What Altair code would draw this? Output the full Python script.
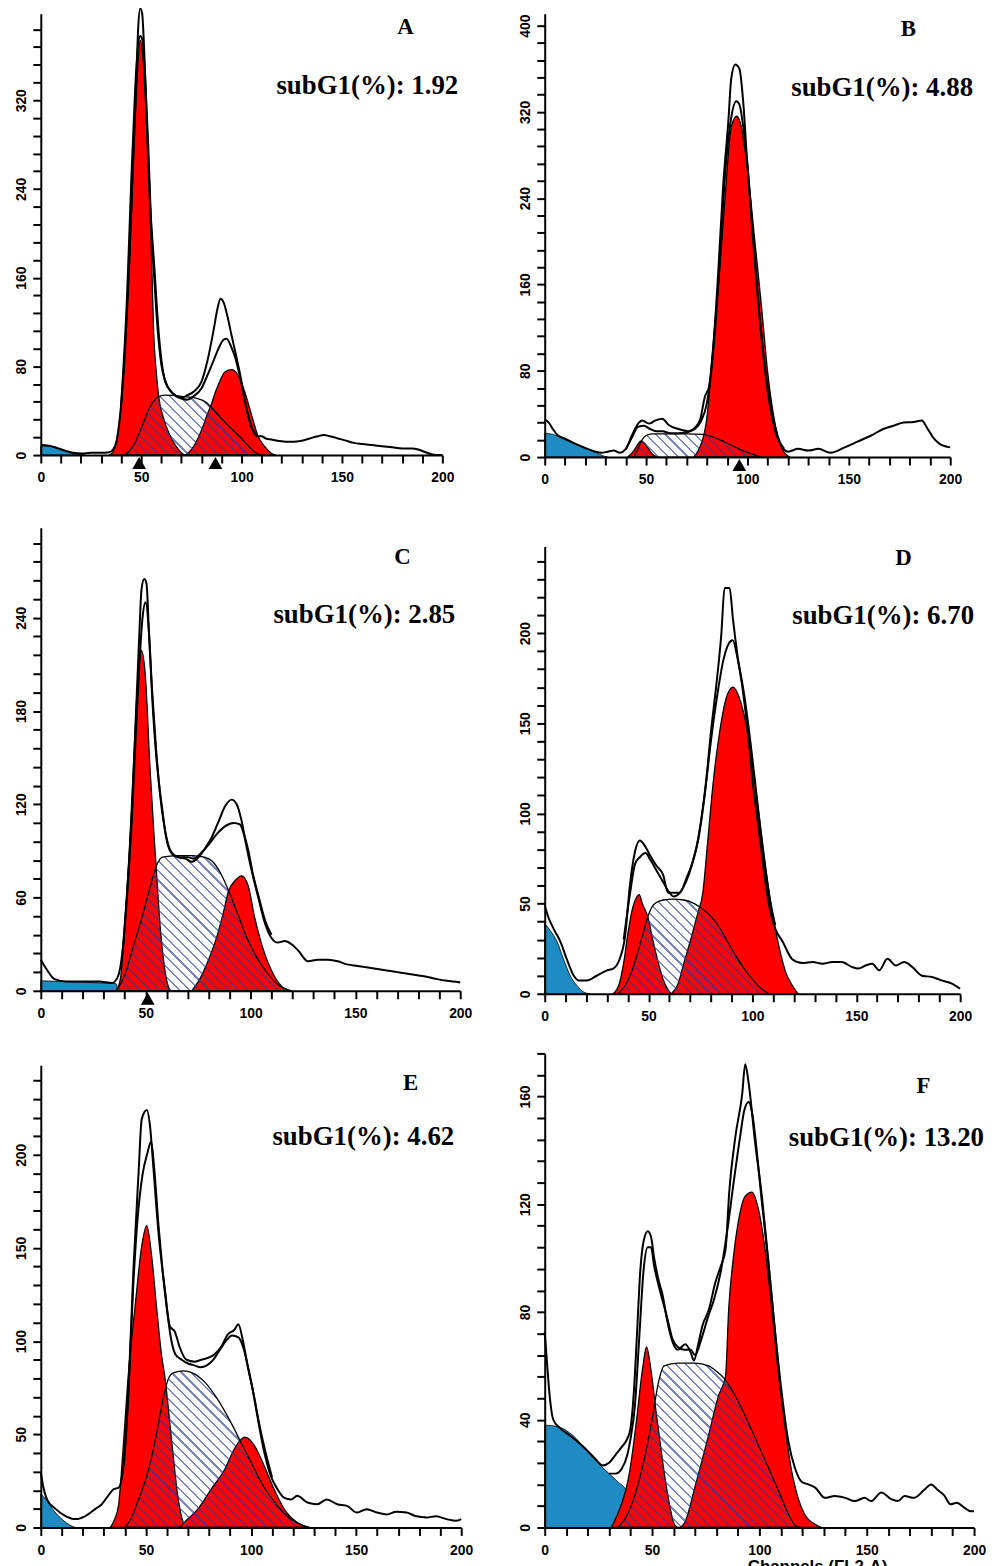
import math
import altair as alt
import pandas as pd

# ---------------- data ----------------
# Panel A
A_L1_X = [0,4,8,12,16,20,25,30,34,36,38,40,42,44,46,47.5,48.5,49.5,50.5,51.5,53,54.5,56.5,58.7,60.5,62,65,68,70.5,73,76,80,83,86,88,89.5,91,93,95,97,100,102,104,106,108,110,112,115,118,122,126,130,134,138,141,144,148,152,156,160,165,170,175,180,185,188,191,194,197,200]
A_L1_Y = [9,8.5,6.5,4,2,1.5,2,2,2.5,5,15,45,95,170,265,335,385,403,398,365,290,225,171,111,80,66,57,53,52,54,57,66,85,112,132,141,138,125,108,92,66,46,31,21,17,17,15,14,13,12,12,13,15,17,18,17,15,13,11,10,9,8,7,6,6,5,3,1,0,0]
A_L2_X = [40,43,45,47,48.5,49.5,50.5,52,53.5,55,56.5,58,60,62,65,70,73,76,80,83,86,88.5,91,92.5,95,97,99,101,103,105,107]
A_L2_Y = [45,145,245,330,370,378,375,340,280,205,160,118,82,67,57,51,50,53,60,72,85,96,104,105,97,87,72,55,38,25,18]
A_G1_X = [34,36,38,40,42,44,46,48,49.5,51,53,55,56.2,57.5,58.7,61,64,67,69.5,71.5]
A_G1_Y = [0,3,15,45,95,165,258,340,374,355,285,190,111,75,53,34,19,9,3,0]
A_G2_X = [72,75,78,81,83,85,87,89,91.7,95,98.3,101.6,105,108,111.6,115.7,117]
A_G2_Y = [0,5,14,27,37,46,57,66,75,77,72,57,36,18,7.5,0.6,0]
A_S_X = [42,46,50,54,58,62,70,78,82,85,88,92,96,100,104,108,110]
A_S_Y = [0,8,24,42,52,54,53,51,48,43,37,29,22,15,7,1,0]
A_B_X = [0,4,8,12,16,20,22]
A_B_Y = [8,8,6,4,2,0.5,0]
A_TRI = [49, 87]

# Panel B
B_L1_X = [0,2,4,6,10,15,20,25,28,31,34,37,40,43,46.5,48,51.4,54.7,58,61,66,71,74,76.7,79,81,83,85.7,88,90.6,92,94,96,98,99.6,102,105,108.6,113.5,116.7,120,125,130,135,141,148,154,161,167,172,177,182,186,188.6,192,195,200]
B_L1_Y = [35,32,26,21,17,12.5,8.5,5,4,5,6,4,7.6,20,32,34,31,34,35.6,30,26,24,27,35,56,65,99,175,251,312,351,364,360,327,281,220,150,84,29,11,5,7.6,6,7.6,4,9,14,20,26,29,32,32.5,34,27,17,12,9]
B_L2_X = [40,43,46,49,52,55,58,62,66,70,74,77,80,83,86,89,92,94.5,96,98,100,103,106,109,112,115,118]
B_L2_Y = [7,18,28,29,26,24,24,22,22,23,26,33,50,95,170,262,315,330,327,305,270,200,130,75,38,17,8]
B_G1_X = [41,44,46,47.5,49,51,53,55.5]
B_G1_Y = [0,6,12,15,13,8,3,0]
B_G2_X = [73.5,76,78,79.5,81,82.4,84,85.7,89,92,94.7,97,100.4,103.7,107,110,113.5,116.7,120,121]
B_G2_Y = [0,7,17,30,55,90,125,160,242,306,316,306,260,199,138,78,32,9,1,0]
B_S_X = [44,46,48,50,53,60,70,78,85,92,99,105,107]
B_S_Y = [0,8,16,20,21.5,21.5,21.5,21,17,11,5,1,0]
B_B_X = [0,4,10,15,20,25,29,31]
B_B_Y = [22,21,16,12,8,4.5,1,0]
B_TRI = [96]

# Panel C
C_L1_X = [0,2.7,6.6,12,20,28,34,36.6,39,41.4,43.7,45.3,47,48,49.3,50.4,51.6,53.2,54.8,56.4,58,59.5,62,65,69,72,75.3,78.5,81.6,84.8,88,91,93.4,95.8,98.2,100.6,103.7,107,110,113,116.3,119.5,122.7,127.4,132,137,141.6,146,151,156,160.5,165,170,175,179.5,184,189,193.7,200]
C_L1_Y = [20,14,7.5,6,6,6,5,8.6,26,69,122,176,230,258,265,262,230,187,155,133,116,101,89,86,85,83,86,92,99,109,119,123,120,109,92,77,60,43,34,31,32,30,26,19,20,20,19,17,16,15,14,13,12,11,10,9,7.5,6.4,5.4]
C_L2_X = [39,41.4,43.7,45.3,47,48.5,50,51.5,53,55,57,60,63,66,70,73,76,80,84,88,92,95,97,99,101,104,107,110]
C_L2_Y = [24,66,118,165,210,240,250,232,195,155,125,98,88,86,86,85,88,94,101,106,108,107,100,90,76,60,45,36]
C_G1_X = [36,38,40,42,44,46,48,50,52,54,54.8,57,59,61,62]
C_G1_Y = [0,8,40,85,140,193,219,200,145,100,84,40,15,2,0]
C_G2_X = [72,76,80,84,87,89.5,92.7,95.8,99,102,105.3,110,114.8,119.5]
C_G2_Y = [0,8,20,35,50,64,71,74,67,47,30,13,3,0]
C_S_X = [36,40,44,48,52,55,58,65,72,78,82,86,90,94,98,102,106,110,114,119]
C_S_Y = [0,10,28,46,66,80,86,87,87,86,83,75,63,49,35,24,15,8,3,0]
C_B_X = [0,10,20,30,36,36.5]
C_B_Y = [6.4,6,5.5,5,4.5,0]
C_TRI = [51]

# Panel D
D_L1_X = [0,1.9,4.3,7.5,10.7,14,16.3,20.3,25,30,33,36,38.7,41,43.5,45.8,48.2,50.6,53.8,57,59.4,61.8,65,68.2,70.6,73,75.4,77.8,80,82.6,85,86.6,89,90.6,93,95.4,97.8,100,103.4,106.5,109,111,114.5,119.3,124,129,133.7,138.5,143,148,151,154.5,157.7,161,165,169,173,177,181.6,186.4,191,196,200]
D_L1_Y = [49,42,36,29,19,10,7.4,7.4,10,13,14,19,32,60,79,85,82,77,71,66,56,56,56,64,71,81,97,119,145,171,199,225,225,208,186,168,145,119,88,60,43.5,36,29,19,17,17.6,16.7,17.6,17.6,14.8,14,15.7,16.7,13,19.4,15.7,17.6,14.8,10,9.3,7.4,5.6,2.8]
D_L2_X = [38,41,43.5,46,48.5,51,54,57,59.5,62,65,68,71,74,77,80,83,86,88.5,90.5,93,96,99,102,105,108,111]
D_L2_Y = [30,55,72,76,78,74,68,62,57,54,56,62,72,86,110,140,165,185,194,196,185,166,140,110,80,55,38]
D_G1_X = [33,36,38,40,42,44,45.5,47,49.8,52,54.5,57,59.5,61]
D_G1_Y = [0,6,17,33,46,53,55,50,42,30,18,8,2,0]
D_G2_X = [61,64,67,71,74,76,78.6,81,84.2,87.4,90.6,94,97,100,103.4,106.5,109.7,113,116,119,122]
D_G2_Y = [0,5,17,33,46,55,86,116,145,164,170,163,149,127,97,69,44,25,12,5,0]
D_S_X = [35,39,43,47,50,53,57,62,67,72,76,80,84,88,92,96,100,104,108]
D_S_Y = [0,5,16,32,44,50,52,52.5,52,50,47,43,37,29,21,14,8,3,0]
D_B_X = [0,2.7,5.9,9,12.3,15.5,18.7,21.9]
D_B_Y = [39,35,29,19.4,10,4.6,1,0]

# Panel E
E_L1_X = [0,0.8,3,7,12,16.5,21,26,29,32,34.6,37,39.4,41.7,44,46.5,48,50.4,52,53.5,56,59,61.4,63.8,66,69.3,73.2,76.4,79.5,82.7,85.8,89,92,94,96,98.4,100.8,103,106,109.4,112.6,115.7,119,122,126.8,131.5,136,141,145.7,150.4,155,160,164.6,169,174,178.7,183.5,188,193,197.6,200]
E_L1_Y = [29.5,24,15,10,6,4.5,6,10,12.5,17,20.5,21.4,33,74,137,190,219,224,215,194,158,128,108,105,97,90,89,90,91,93,97,103.6,106,109,101,86.6,74,60,42,27.7,20.5,16,15,17,13.4,12.5,15,12.5,11.6,8,9.8,8,7,8.4,8,6,5.4,6,4.5,3.6,4.5]
E_L2_X = [39.4,41.7,44,46,48.5,50.5,52.5,54,56,58,60,62,64,67,70,73,76,79,82,85,88,91,94,96.5,99,101.5,104,107,110]
E_L2_Y = [33,72,130,165,190,200,207,192,162,137,117,101,93,90,88,87,86,87,90,95,100,103,102,96,84,70,55,40,27]
E_G1_X = [33,35,37,39,41.7,44.9,48,50.4,52.8,55,57.5,59,62.2,65.4,67.7,70]
E_G1_Y = [0,4,12,40,83,119,151,162,145,119,92,81,47,15,3,0]
E_G2_X = [66,68.5,74.8,81,87.4,92,95,97,99,101.6,106.3,111,115.7,122,127]
E_G2_Y = [0,3,10,20.5,31,42,47,48.5,47.5,44,33,20.5,10,2.7,0]
E_S_X = [40,43,46.5,50,52.8,55,57.5,60.6,63,68,72,78,84,90.6,95.3,100,106,112.6,119,125,128]
E_S_Y = [0,5,15,26,38,50,65,79.5,83,84,83,78,69,56,45.5,35,22,11.6,4.5,1,0]
E_B_X = [0,2.5,5.5,10,14,16.5]
E_B_Y = [18,15,10,4.5,1.2,0]

# Panel F
F_L1_X = [0,1,2.3,4,7,12,18,23,27,30,33,36,38.5,40,41.5,43,44.5,46,48,49.5,51,53,55,57,59.5,62,65.5,68,69.5,71.5,73.5,76.5,79.5,82,84.2,86,88.8,92,93.4,95,98,101,104,107,110.4,113.5,116.6,119.7,122.8,126,130.5,135,140,144.4,149,152,156.8,161.4,164.5,167.6,172,176.8,180,183,186,189,192,195.4,198.5,200]
F_L1_Y = [72.6,62,49,40,37,34,30,26,23,24,27,30,33,37,50,72,95,106,110,108,100,92,86,77,69,66,68,65,62,68,75,81,91,97,103,125,145,161,172,165,143,124,100,75,50,32,22,17,16,14.8,11,11.7,11,9.8,11,9.8,13,10.5,9.8,11.7,11,14,16,14,12,8.6,9.2,7.4,6,6]
F_L2_X = [30,33,36,38.5,40,42,44,46,48,49.5,51,53,55,57,59.5,62,65,68,70,73,76,79,82,85,88,91,93,95,97,99,101,104,107,110]
F_L2_Y = [20,20,22,27,33,45,70,95,104,104,97,90,84,78,70,67,66,66,64,70,78,85,95,110,128,145,155,158,152,138,122,100,75,50]
F_G1_X = [31,34,37.8,39.4,42.5,45.6,47.4,49.4,51.7,54,56.5,58.5,60.2,62]
F_G1_Y = [0,5,14,20,38,59,67,59,44,30,16,7,1.5,0]
F_G2_X = [63,65,70.3,76.4,81,84.2,85.7,88,90.3,93.4,96.5,99.6,102.7,105.8,108.9,112,115,118,121,125.9,129]
F_G2_Y = [0,1.5,16,34.5,49,56,81,101,114,123,124.5,118,103,81,57,37,21,11,5,1.2,0]
F_S_X = [34,38,42,46,50,53,55.6,62,70,76.4,80,84,90,96.5,102.7,109,113.5,117,119]
F_S_Y = [0,4,12,24,40,54,60,61,61,60,58,55,47,36,25,13.5,5,0.5,0]
F_B_X = [0,6,10,14.7,18,22.4,26,30,34,37.8,40,42,43]
F_B_Y = [38,37.5,36,33,30,26,23,20,17,14,10,4,0]

LETTERS = ["A", "B", "C", "D", "E", "F"]
SUBG1 = ["subG1(%): 1.92", "subG1(%): 4.88", "subG1(%): 2.85",
         "subG1(%): 6.70", "subG1(%): 4.62", "subG1(%): 13.20"]

# ---------------- styling ----------------
RED = "#ff0000"
BLUE = "#1e8bc3"
HATCH = "rgba(40,60,150,0.62)"
CLEAR = "rgba(255,255,255,0)"

# width, height, y top, y tick step, y label step, letter pos, subG1 pos (relative to plot)
LAYOUT = {
    "A": dict(W=404, H=444, top=398, step=16, lab=80, let=(367, 13), sub=(420, 73)),
    "B": dict(W=408, H=446, top=411, step=16, lab=80, let=(366, 15), sub=(431, 75)),
    "C": dict(W=422, H=466, top=298, step=12, lab=60, let=(364, 30), sub=(417, 88)),
    "D": dict(W=418, H=450, top=248, step=10, lab=50, let=(361, 12), sub=(432, 70)),
    "E": dict(W=423, H=465, top=248, step=10, lab=50, let=(372, 18), sub=(416, 72)),
    "F": dict(W=432, H=477, top=176, step=8, lab=40, let=(381, 33), sub=(442, 85)),
}


def frame(xs, ys):
    return pd.DataFrame({"x": xs, "y": ys})


def hatch_fill(xs, ys, W, H, top, period=7.0, lw=1.6):
    w = (max(xs) - min(xs)) * W / 200.0
    h = max(ys) * H / top
    r = h / w
    k = (1 + r) / (1 + r * r)
    L = (w + h) / math.sqrt(2)
    n = L / period
    half = lw / L / 2
    stops = [alt.GradientStop(offset=0, color=CLEAR)]
    i = 0
    while True:
        c = (i + 0.5) / n
        if c - half >= 1:
            break
        a = max(c - half, 0.0)
        b = min(c + half, 1.0)
        stops += [alt.GradientStop(offset=a, color=CLEAR),
                  alt.GradientStop(offset=a, color=HATCH),
                  alt.GradientStop(offset=b, color=HATCH),
                  alt.GradientStop(offset=b, color=CLEAR)]
        i += 1
    stops.append(alt.GradientStop(offset=1, color=CLEAR))
    return alt.LinearGradient(gradient="linear", stops=stops,
                              x1=0, y1=1, x2=k, y2=1 - k * r)


def panel(name, L1, L2, G1, G2, S, B, tri=None, xtitle=None):
    cfg = LAYOUT[name]
    W, H, top = cfg["W"], cfg["H"], cfg["top"]
    xs = alt.Scale(domain=[0, 200], nice=False, zero=False)
    ys = alt.Scale(domain=[0, top], nice=False, zero=True)
    common = dict(domainColor="black", domainWidth=2, tickColor="black",
                  tickWidth=2, tickSize=8, labelColor="black",
                  labelFont="Liberation Sans", labelFontSize=14,
                  labelFontWeight="bold",
                  labelOverlap=False, labelFlush=False, grid=False, zindex=1)
    xkw = dict(common)
    if xtitle:
        xkw.update(title=xtitle, titleFont="Liberation Sans", titleFontSize=17,
                   titleFontWeight="bold", titleColor="black",
                   titleBaseline="top", titleY=31, titleX=274)
    else:
        xkw.update(title=None)
    xa = alt.Axis(values=list(range(0, 201, 10)),
                  labelExpr="datum.value % 50 == 0 ? datum.label : ''",
                  labelPadding=8, **xkw)
    ya = alt.Axis(values=list(range(0, int(top) + 1, cfg["step"])),
                  labelExpr="datum.value %% %d == 0 ? datum.label : ''" % cfg["lab"],
                  labelAngle=270, labelAlign="center", labelBaseline="bottom",
                  labelPadding=4, title=None, **common)
    enc = dict(x=alt.X("x:Q", scale=xs, axis=xa),
               y=alt.Y("y:Q", scale=ys, axis=ya))

    layers = [
        alt.Chart(frame(*B)).mark_area(color=BLUE, stroke="black", strokeWidth=0.8,
                                       interpolate="monotone", opacity=1).encode(**enc),
        alt.Chart(frame(*S)).mark_area(color="white", interpolate="monotone",
                                       opacity=1).encode(**enc),
        alt.Chart(frame(*G1)).mark_area(color=RED, stroke="black", strokeWidth=1.3,
                                        interpolate="monotone", opacity=1).encode(**enc),
        alt.Chart(frame(*G2)).mark_area(color=RED, stroke="black", strokeWidth=1.3,
                                        interpolate="monotone", opacity=1).encode(**enc),
        alt.Chart(frame(*S)).mark_area(fill=hatch_fill(S[0], S[1], W, H, top),
                                       stroke="black", strokeWidth=1.3,
                                       interpolate="monotone").encode(**enc),
        alt.Chart(frame(*L2)).mark_line(color="black", strokeWidth=2,
                                        interpolate="monotone").encode(**enc),
        alt.Chart(frame(*L1)).mark_line(color="black", strokeWidth=2,
                                        interpolate="monotone").encode(**enc),
    ]
    if tri:
        layers.append(
            alt.Chart(frame(tri, [0] * len(tri))).mark_point(
                shape="triangle-up", filled=True, color="black", size=190,
                opacity=1, yOffset=8).encode(**enc))
    idx = LETTERS.index(name)
    layers.append(
        alt.Chart(pd.DataFrame({"t": [name]})).mark_text(
            font="Liberation Serif", fontWeight="bold", fontSize=23,
            align="center", baseline="middle", color="black").encode(
            text="t:N", x=alt.value(cfg["let"][0]), y=alt.value(cfg["let"][1])))
    layers.append(
        alt.Chart(pd.DataFrame({"t": [SUBG1[idx]]})).mark_text(
            font="Liberation Serif", fontWeight="bold", fontSize=27,
            align="right", baseline="middle", color="black").encode(
            text="t:N", x=alt.value(cfg["sub"][0]), y=alt.value(cfg["sub"][1])))
    return alt.layer(*layers).properties(width=W, height=H)


pA = panel("A", (A_L1_X, A_L1_Y), (A_L2_X, A_L2_Y), (A_G1_X, A_G1_Y),
           (A_G2_X, A_G2_Y), (A_S_X, A_S_Y), (A_B_X, A_B_Y), tri=A_TRI)
pB = panel("B", (B_L1_X, B_L1_Y), (B_L2_X, B_L2_Y), (B_G1_X, B_G1_Y),
           (B_G2_X, B_G2_Y), (B_S_X, B_S_Y), (B_B_X, B_B_Y), tri=B_TRI)
pC = panel("C", (C_L1_X, C_L1_Y), (C_L2_X, C_L2_Y), (C_G1_X, C_G1_Y),
           (C_G2_X, C_G2_Y), (C_S_X, C_S_Y), (C_B_X, C_B_Y), tri=C_TRI)
pD = panel("D", (D_L1_X, D_L1_Y), (D_L2_X, D_L2_Y), (D_G1_X, D_G1_Y),
           (D_G2_X, D_G2_Y), (D_S_X, D_S_Y), (D_B_X, D_B_Y))
pE = panel("E", (E_L1_X, E_L1_Y), (E_L2_X, E_L2_Y), (E_G1_X, E_G1_Y),
           (E_G2_X, E_G2_Y), (E_S_X, E_S_Y), (E_B_X, E_B_Y))
pF = panel("F", (F_L1_X, F_L1_Y), (F_L2_X, F_L2_Y), (F_G1_X, F_G1_Y),
           (F_G2_X, F_G2_Y), (F_S_X, F_S_Y), (F_B_X, F_B_Y),
           xtitle="Channels (FL2-A)")

left = alt.vconcat(alt.vconcat(pA, pC, spacing=43), pE, spacing=45)
right = alt.vconcat(alt.vconcat(pB, pD, spacing=60), pF, spacing=29)

chart = alt.hconcat(left, right, spacing=45).properties(
    padding={"left": 6, "top": -9, "right": 0, "bottom": 0}
).configure_view(stroke=None)

chart.save("out.html", embed_options={"renderer": "svg", "actions": False})
